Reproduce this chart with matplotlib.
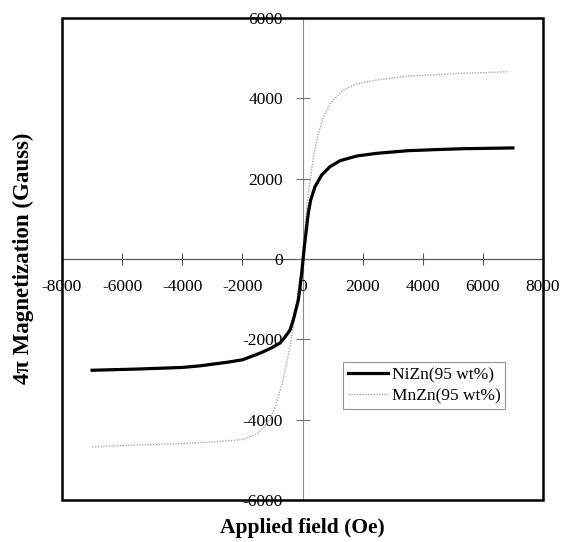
import matplotlib
matplotlib.use("Agg")
import matplotlib.pyplot as plt
from matplotlib.patches import Rectangle

# NiZn (95 wt%) curve
nizn_field = [-7000, -5500, -4000, -3410, -2500, -2000, -1750, -1500, -1250, -1000, -748,
              -600, -416, -300, -139, -27, 60, 139, 194, 272, 416, 638, 915, 1248, 1802,
              2468, 3520, 4500, 5350, 7000]
nizn_mag = [-2770, -2740, -2700, -2660, -2570, -2510, -2440, -2370, -2290, -2200, -2090,
            -1960, -1770, -1500, -1020, -357, 300, 800, 1150, 1469, 1800, 2091, 2298, 2447,
            2564, 2631, 2697, 2725, 2746, 2765]

# MnZn (95 wt%) curve
mnzn_field = [-7000, -5500, -3990, -2500, -1964, -1500, -1250, -1050, -893, -655, -417,
              -238, -100, 0, 83, 194, 360, 527, 693, 970, 1358, 1802, 2468, 3520, 5350, 6850]
mnzn_mag = [-4680, -4630, -4595, -4530, -4490, -4350, -4164, -3950, -3647, -3043, -2181,
            -1319, -600, 0, 805, 1635, 2547, 3129, 3543, 3917, 4207, 4357, 4456, 4556,
            4622, 4663]

xticks = [-8000, -6000, -4000, -2000, 0, 2000, 4000, 6000, 8000]
yticks = [-6000, -4000, -2000, 0, 2000, 4000, 6000]

serif = ["Liberation Serif", "DejaVu Serif"]
plt.rcParams["font.family"] = serif

fig = plt.figure(figsize=(5.63, 5.42), dpi=100)
ax = fig.add_axes([62/563, 42/542, 481/563, 482/542])

ax.plot(mnzn_field, mnzn_mag, color="#a8a8a8", lw=1.0, linestyle=(0, (1, 1)),
        label="MnZn(95 wt%)", zorder=3)
ax.plot(nizn_field, nizn_mag, color="black", lw=2.3, label="NiZn(95 wt%)", zorder=4)

ax.set_xlim(-8000, 8000)
ax.set_ylim(-6000, 6000)

for s in ["top", "right"]:
    ax.spines[s].set_visible(False)
ax.spines["left"].set_position(("data", 0))
ax.spines["bottom"].set_position(("data", 0))
ax.spines["left"].set_color("#8a8a8a")
ax.spines["bottom"].set_color("#555555")
ax.spines["left"].set_linewidth(0.8)
ax.spines["bottom"].set_linewidth(0.9)
ax.spines["left"].set_zorder(1)
ax.spines["bottom"].set_zorder(1)

ax.set_xticks(xticks)
ax.set_yticks(yticks)
ax.set_xticklabels([str(v) for v in xticks])
ax.set_yticklabels([str(v) for v in yticks])
ax.tick_params(axis="x", direction="inout", length=9, width=0.8, color="#555555",
               labelsize=12.5, pad=10)
ax.tick_params(axis="y", direction="inout", length=10, width=0.8, color="#777777",
               labelsize=12.5, pad=9)

ax.add_patch(Rectangle((0, 0), 1, 1, transform=ax.transAxes, fill=False,
                       lw=1.8, edgecolor="black", clip_on=False, zorder=5))

fig.text(302/563, 1 - 528/542, "Applied field (Oe)", ha="center", va="center",
         fontsize=15.5, fontweight="bold")
fig.text(23/563, 1 - 258/542, "4π Magnetization (Gauss)", ha="center", va="center",
         rotation=90, fontsize=16.5, fontweight="bold")

handles, labels = ax.get_legend_handles_labels()
leg = ax.legend(handles[::-1], labels[::-1], loc="upper left",
                bbox_to_anchor=(0.584, 0.286), borderaxespad=0,
                fontsize=12.5, frameon=True, fancybox=False, edgecolor="#777777",
                handlelength=2.3, handletextpad=0.2, borderpad=0.3, labelspacing=0.25)
leg.get_frame().set_linewidth(0.8)
leg.set_zorder(6)

fig.savefig("out.png", dpi=100)
